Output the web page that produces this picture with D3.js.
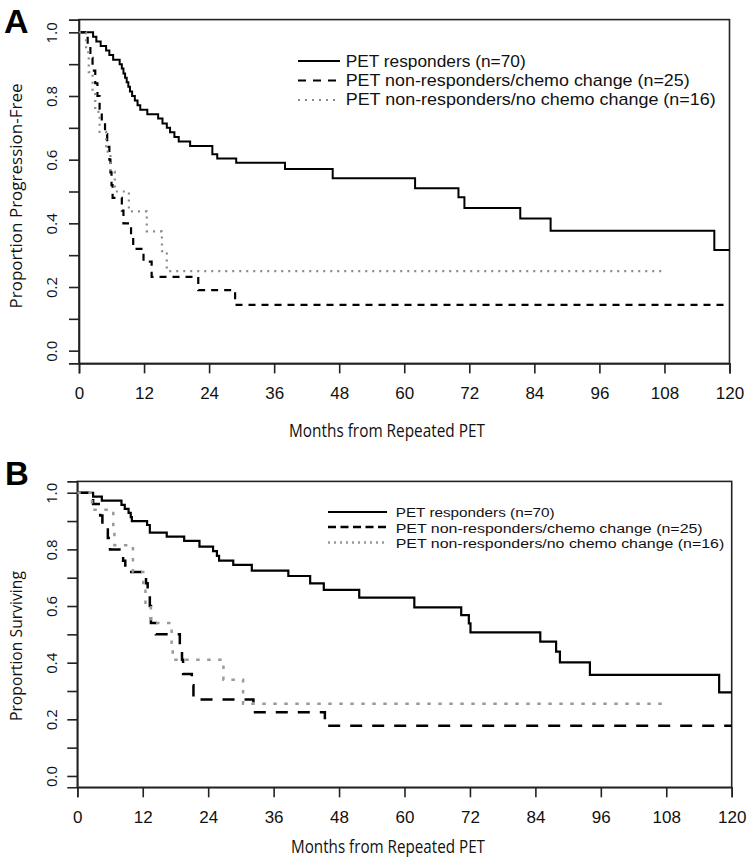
<!DOCTYPE html>
<html>
<head>
<meta charset="utf-8">
<script src="https://cdn.jsdelivr.net/npm/d3@7"></script>
<style>
  html, body { margin: 0; padding: 0; background: #fff; }
  svg { display: block; }
</style>
</head>
<body>
<svg id="chart" width="750" height="859"></svg>
<script>
// ---------- data ----------
const monthTicks = [0, 12, 24, 36, 48, 60, 72, 84, 96, 108, 120];
const propTicks = [0, 0.1, 0.2, 0.3, 0.4, 0.5, 0.6, 0.7, 0.8, 0.9, 1.0];
const propLabels = [0, 0.2, 0.4, 0.6, 0.8, 1.0];
const seriesNames = [
  "PET responders (n=70)",
  "PET non-responders/chemo change (n=25)",
  "PET non-responders/no chemo change (n=16)"
];
const panelLetters = ["A", "B"];
const yTitles = ["Proportion Progression-Free", "Proportion Surviving"];
const xTitle = "Months from Repeated PET";

// Panel A: progression-free
const aRespT = [0,2.6,3.2,4.0,5.0,5.6,6.3,7.5,7.9,8.2,8.5,8.8,9.1,9.4,9.8,10.3,10.8,11.3,12.6,14.6,15.4,16.2,16.8,17.6,18.4,20.5,24.6,25.5,29.0,38.0,46.8,62.0,70.0,71.1,81.4,87.0,117.2];
const aRespS = [1,0.986,0.971,0.957,0.943,0.929,0.914,0.900,0.886,0.871,0.857,0.843,0.829,0.814,0.800,0.786,0.771,0.757,0.743,0.729,0.714,0.700,0.686,0.671,0.657,0.643,0.617,0.604,0.590,0.571,0.542,0.510,0.482,0.448,0.415,0.377,0.316];
const aRespEnd = 120;
const aChgT = [0,1.6,2.1,2.5,3.0,3.4,3.8,4.2,4.8,5.2,5.6,5.8,6.0,6.2,7.9,8.2,9.6,10.0,11.9,13.4,22.0,28.8];
const aChgS = [1,0.96,0.92,0.88,0.84,0.80,0.76,0.72,0.68,0.64,0.60,0.56,0.52,0.48,0.44,0.40,0.36,0.32,0.28,0.232,0.19,0.144];
const aChgEnd = 120;
const aNoT = [0,1.3,1.8,2.5,3.0,3.8,5.0,5.8,6.6,9.2,12.5,15.3,16.2];
const aNoS = [1,0.9375,0.875,0.8125,0.75,0.6875,0.625,0.5625,0.5,0.4375,0.375,0.3125,0.25];
const aNoEnd = 108;

// Panel B: overall survival
const bRespT = [0,2.9,4.5,8.1,8.7,9.4,9.8,10.0,12.8,13.3,16.4,19.6,22.4,24.9,25.6,26.0,28.6,32.0,38.7,42.7,45.2,51.7,61.8,70.4,71.8,72.1,84.9,87.8,88.5,94.0,117.7];
const bRespS = [1,0.986,0.972,0.957,0.943,0.929,0.914,0.900,0.886,0.859,0.845,0.830,0.810,0.794,0.777,0.760,0.745,0.725,0.706,0.680,0.657,0.630,0.595,0.568,0.539,0.507,0.474,0.439,0.401,0.357,0.295];
const bRespEnd = 120;
const bChgT = [0,2.9,4.2,4.6,5.6,6.0,8.4,8.8,12.6,12.9,13.3,13.5,14.4,18.8,19.2,19.4,21.0,21.3,32.3,45.4];
const bChgS = [1,0.96,0.92,0.88,0.84,0.80,0.76,0.72,0.68,0.64,0.60,0.54,0.50,0.46,0.41,0.36,0.32,0.27,0.225,0.177];
const bChgEnd = 120;
const bNoT = [0,2.7,6.6,6.8,10.2,12.1,12.5,13.5,17.3,17.5,26.8,30.4];
const bNoS = [1,0.94,0.875,0.815,0.72,0.66,0.60,0.54,0.47,0.41,0.34,0.255];
const bNoEnd = 108;

// ---------- drawing ----------
const svg = d3.select("#chart");
const serifless = "'Liberation Sans', Arial, sans-serif";
const humanist = "'Open Sans', 'Noto Sans', sans-serif";

function toPoints(T, S, end) {
  const pts = T.map((t, i) => [t, S[i]]);
  pts.push([end, S[S.length - 1]]);
  return pts;
}

const panels = [
  {
    letter: panelLetters[0], yTitle: yTitles[0],
    xr: [79, 729.5], yr: [363.4, 19.6],
    letterPos: [4, 33], letterSize: 34,
    yTitleY: 196, xTitleX: 289, xTitleY: 436.5, xTitleLen: 196,
    yTitleLen: 225, yTitleSize: 17, xTitleSize: 18.5,
    xTickSize: 17, yTickSize: 15,
    series: [
      {pts: toPoints(aRespT, aRespS, aRespEnd), color: "#000", w: 2, dash: null},
      {pts: toPoints(aChgT, aChgS, aChgEnd), color: "#000", w: 2.2, dash: "7,6"},
      {pts: toPoints(aNoT, aNoS, aNoEnd), color: "#8a8a8a", w: 2.2, dash: "2,5"}
    ],
    legend: {lineX: [298, 340], textX: 345.7, base: [66.7, 86, 105.3], lineY: [61, 80.5, 100],
             size: 17, lens: [180, 344, 370],
             dashes: [null, "8,7", "2,5"]}
  },
  {
    letter: panelLetters[1], yTitle: yTitles[1],
    xr: [77.3, 731.7], yr: [787.3, 481.4],
    letterPos: [5, 485], letterSize: 33,
    yTitleY: 646, xTitleX: 291, xTitleY: 852.5, xTitleLen: 194,
    yTitleLen: 150, yTitleSize: 15.5, xTitleSize: 18.5,
    xTickSize: 17, yTickSize: 15,
    series: [
      {pts: toPoints(bRespT, bRespS, bRespEnd), color: "#000", w: 2.2, dash: null},
      {pts: toPoints(bChgT, bChgS, bChgEnd), color: "#000", w: 2.5, dash: "12,10"},
      {pts: toPoints(bNoT, bNoS, bNoEnd), color: "#9a9a9a", w: 2.5, dash: "3.5,7.5"}
    ],
    legend: {lineX: [328, 387], textX: 395.7, base: [517.3, 532.7, 548.3], lineY: [512, 527, 542.5],
             size: 13.7, lens: [159, 307, 328.6],
             dashes: [null, "8,4.5", "2,4"]}
  }
];

panels.forEach(p => {
  const x = d3.scaleLinear().domain([0, 120]).range(p.xr);
  const y = d3.scaleLinear().domain([-0.04, 1.04]).range(p.yr);
  const g = svg.append("g");

  // box
  g.append("rect")
    .attr("x", p.xr[0]).attr("y", p.yr[1])
    .attr("width", p.xr[1] - p.xr[0]).attr("height", p.yr[0] - p.yr[1])
    .attr("fill", "none").attr("stroke", "#222").attr("stroke-width", 1.6);

  // x axis
  const xa = g.append("g")
    .attr("transform", `translate(0,${p.yr[0]})`)
    .call(d3.axisBottom(x).tickValues(monthTicks).tickSize(10).tickPadding(14).tickFormat(d3.format("d")));
  xa.select(".domain").attr("stroke", "#222").attr("stroke-width", 1.6);
  xa.selectAll(".tick line").attr("stroke", "#222").attr("stroke-width", 1.6);
  xa.selectAll(".tick text").attr("font-family", serifless).attr("font-size", p.xTickSize).attr("fill", "#111");

  // y axis
  const ya = g.append("g")
    .attr("transform", `translate(${p.xr[0]},0)`)
    .call(d3.axisLeft(y).tickValues(propTicks).tickSize(10)
      .tickFormat(d => propLabels.some(v => Math.abs(v - d) < 1e-9) ? d3.format(".1f")(d) : ""));
  ya.select(".domain").attr("stroke", "#222").attr("stroke-width", 1.6);
  ya.selectAll(".tick line").attr("stroke", "#222").attr("stroke-width", 1.6);
  ya.selectAll(".tick text")
    .attr("x", null).attr("dy", null)
    .attr("transform", `translate(${57 - p.xr[0]},0) rotate(-90)`)
    .attr("text-anchor", "middle")
    .attr("font-family", humanist).attr("font-size", p.yTickSize).attr("fill", "#111");

  // curves
  const line = d3.line().x(d => x(d[0])).y(d => y(d[1])).curve(d3.curveStepAfter);
  p.series.forEach(s => {
    g.append("path")
      .attr("d", line(s.pts))
      .attr("fill", "none")
      .attr("stroke", s.color)
      .attr("stroke-width", s.w)
      .attr("stroke-dasharray", s.dash)
      .attr("stroke-linejoin", "miter");
  });

  // legend
  const L = p.legend;
  seriesNames.forEach((name, i) => {
    const s = p.series[i];
    g.append("line")
      .attr("x1", L.lineX[0]).attr("x2", L.lineX[1])
      .attr("y1", L.lineY[i]).attr("y2", L.lineY[i])
      .attr("stroke", s.color).attr("stroke-width", s.w)
      .attr("stroke-dasharray", L.dashes[i]);
    g.append("text")
      .attr("x", L.textX).attr("y", L.base[i])
      .attr("font-family", serifless).attr("font-size", L.size).attr("fill", "#111")
      .attr("textLength", L.lens[i]).attr("lengthAdjust", "spacingAndGlyphs")
      .text(name);
  });

  // axis titles
  g.append("text")
    .attr("x", p.xTitleX).attr("y", p.xTitleY)
    .attr("font-family", humanist).attr("font-size", p.xTitleSize).attr("fill", "#111")
    .attr("textLength", p.xTitleLen).attr("lengthAdjust", "spacingAndGlyphs")
    .text(xTitle);
  g.append("text")
    .attr("transform", `translate(22,${p.yTitleY}) rotate(-90)`)
    .attr("text-anchor", "middle")
    .attr("font-family", humanist).attr("font-size", p.yTitleSize).attr("fill", "#111")
    .attr("textLength", p.yTitleLen).attr("lengthAdjust", "spacingAndGlyphs")
    .text(p.yTitle);

  // panel letter
  g.append("text")
    .attr("x", p.letterPos[0]).attr("y", p.letterPos[1])
    .attr("font-family", serifless).attr("font-weight", "bold")
    .attr("font-size", p.letterSize).attr("fill", "#000")
    .text(p.letter);
});
</script>
</body>
</html>
